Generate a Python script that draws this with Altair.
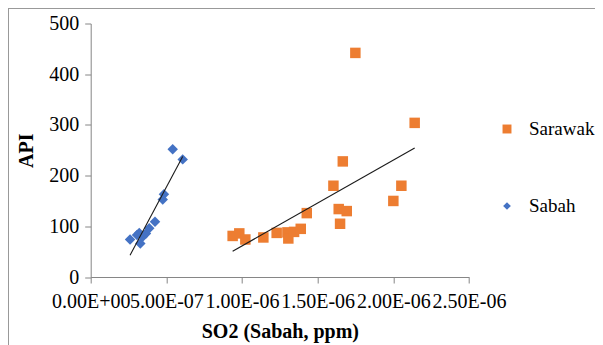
import altair as alt
import pandas as pd

# Sarawak: SO2 (ppm) and API
sarawak_so2 = [0.938e-6, 0.982e-6, 1.022e-6, 1.141e-6, 1.229e-6, 1.300e-6, 1.306e-6,
               1.344e-6, 1.388e-6, 1.428e-6, 1.604e-6, 1.639e-6, 1.648e-6, 1.666e-6,
               1.692e-6, 1.749e-6, 2.000e-6, 2.053e-6, 2.141e-6]
sarawak_api = [81, 86, 74, 78, 87, 88, 76, 89, 95, 126, 180, 134, 105, 228,
               130, 442, 150, 180, 304]

# Sabah: SO2 (ppm) and API
sabah_so2 = [0.260e-6, 0.306e-6, 0.321e-6, 0.328e-6, 0.345e-6, 0.365e-6, 0.387e-6,
             0.425e-6, 0.476e-6, 0.484e-6, 0.542e-6, 0.608e-6]
sabah_api = [74, 83, 87, 66, 80, 86, 96, 109, 153, 163, 252, 232]

series_names = ["Sarawak", "Sabah"]
series_colors = ["#ED7D31", "#4472C4"]
series_shapes = ["square", "diamond"]

x_tick_values = [0, 5e-7, 1e-6, 1.5e-6, 2e-6, 2.5e-6]
x_tick_labels = ["0.00E+00", "5.00E-07", "1.00E-06", "1.50E-06", "2.00E-06", "2.50E-06"]
y_tick_values = [0, 100, 200, 300, 400, 500]

df = pd.DataFrame({
    "so2": sarawak_so2 + sabah_so2,
    "api": sarawak_api + sabah_api,
    "series": ["Sarawak"] * len(sarawak_so2) + ["Sabah"] * len(sabah_so2),
})

W, H = 378.3, 253.5
PL, PT, PR, PB = 82.7, 15.5, 126, 72
FONT = "Liberation Serif"
AXIS_GRAY = "#868686"

label_expr = "[" + ",".join("'%s'" % s for s in x_tick_labels) + "][round(datum.value / 5e-7)]"

x_enc = alt.X("so2:Q", scale=alt.Scale(domain=[0, 2.5e-6], nice=False),
              axis=alt.Axis(values=x_tick_values, labelExpr=label_expr, title="SO2 (Sabah, ppm)",
                            labelOverlap=False, labelFlush=False, titleY=60,
                            titleBaseline="alphabetic"))
y_enc = alt.Y("api:Q", scale=alt.Scale(domain=[0, 500], nice=False),
              axis=alt.Axis(values=y_tick_values, title="API", titleX=-58, titleY=H / 2,
                            titleAngle=-90, titleBaseline="alphabetic", titleAlign="center"))

color_scale = alt.Scale(domain=series_names, range=series_colors)
shape_scale = alt.Scale(domain=series_names, range=series_shapes)

base = alt.Chart(df)

points = base.mark_point(filled=True, opacity=1, size=110).encode(
    x=x_enc,
    y=y_enc,
    color=alt.Color("series:N", scale=color_scale, legend=None),
    shape=alt.Shape("series:N", scale=shape_scale, legend=None),
)

trend = base.transform_regression("so2", "api", groupby=["series"]).mark_line(
    color="#1a1a1a", strokeWidth=1.1
).encode(x="so2:Q", y="api:Q", detail="series:N")

# manual legend entries (symbol + label)
legend_rows = [(series_names[0], 105.5), (series_names[1], 182.5)]
legend_layers = []
for name, ly in legend_rows:
    ldf = pd.DataFrame({"series": [name]})
    sym = alt.Chart(ldf).mark_point(filled=True, opacity=1, size=80 if name == "Sarawak" else 60).encode(
        x=alt.value(416.3), y=alt.value(ly),
        color=alt.Color("series:N", scale=color_scale, legend=None),
        shape=alt.Shape("series:N", scale=shape_scale, legend=None),
    )
    txt = alt.Chart(ldf).mark_text(font=FONT, fontSize=19, align="left", baseline="middle",
                                   color="black").encode(
        x=alt.value(438.3), y=alt.value(ly), text="series:N"
    )
    legend_layers += [sym, txt]

frame_left = alt.Chart(pd.DataFrame({"a": [0]})).mark_rule(color="#999999", strokeWidth=1).encode(
    x=alt.value(-PL + 0.5), y=alt.value(-PT), y2=alt.value(H + PB)
)
frame_top = alt.Chart(pd.DataFrame({"a": [0]})).mark_rule(color="#999999", strokeWidth=1).encode(
    x=alt.value(-PL), x2=alt.value(W + PR), y=alt.value(-PT + 0.5)
)

chart = alt.layer(points, trend, *legend_layers, frame_left, frame_top).properties(
    width=W, height=H,
    padding={"left": PL, "top": PT, "right": PR, "bottom": PB},
    autosize=alt.AutoSizeParams(type="none"),
).configure_view(stroke=None).configure_axis(
    grid=False, domainColor=AXIS_GRAY, tickColor=AXIS_GRAY, tickSize=6,
    labelFont=FONT, labelFontSize=20, labelColor="black", labelPadding=6,
    titleFont=FONT, titleFontSize=20, titleFontWeight="bold", titleColor="black",
).configure_axisX(labelPadding=8)

chart.save("out.html", embed_options={"renderer": "svg", "actions": False})
